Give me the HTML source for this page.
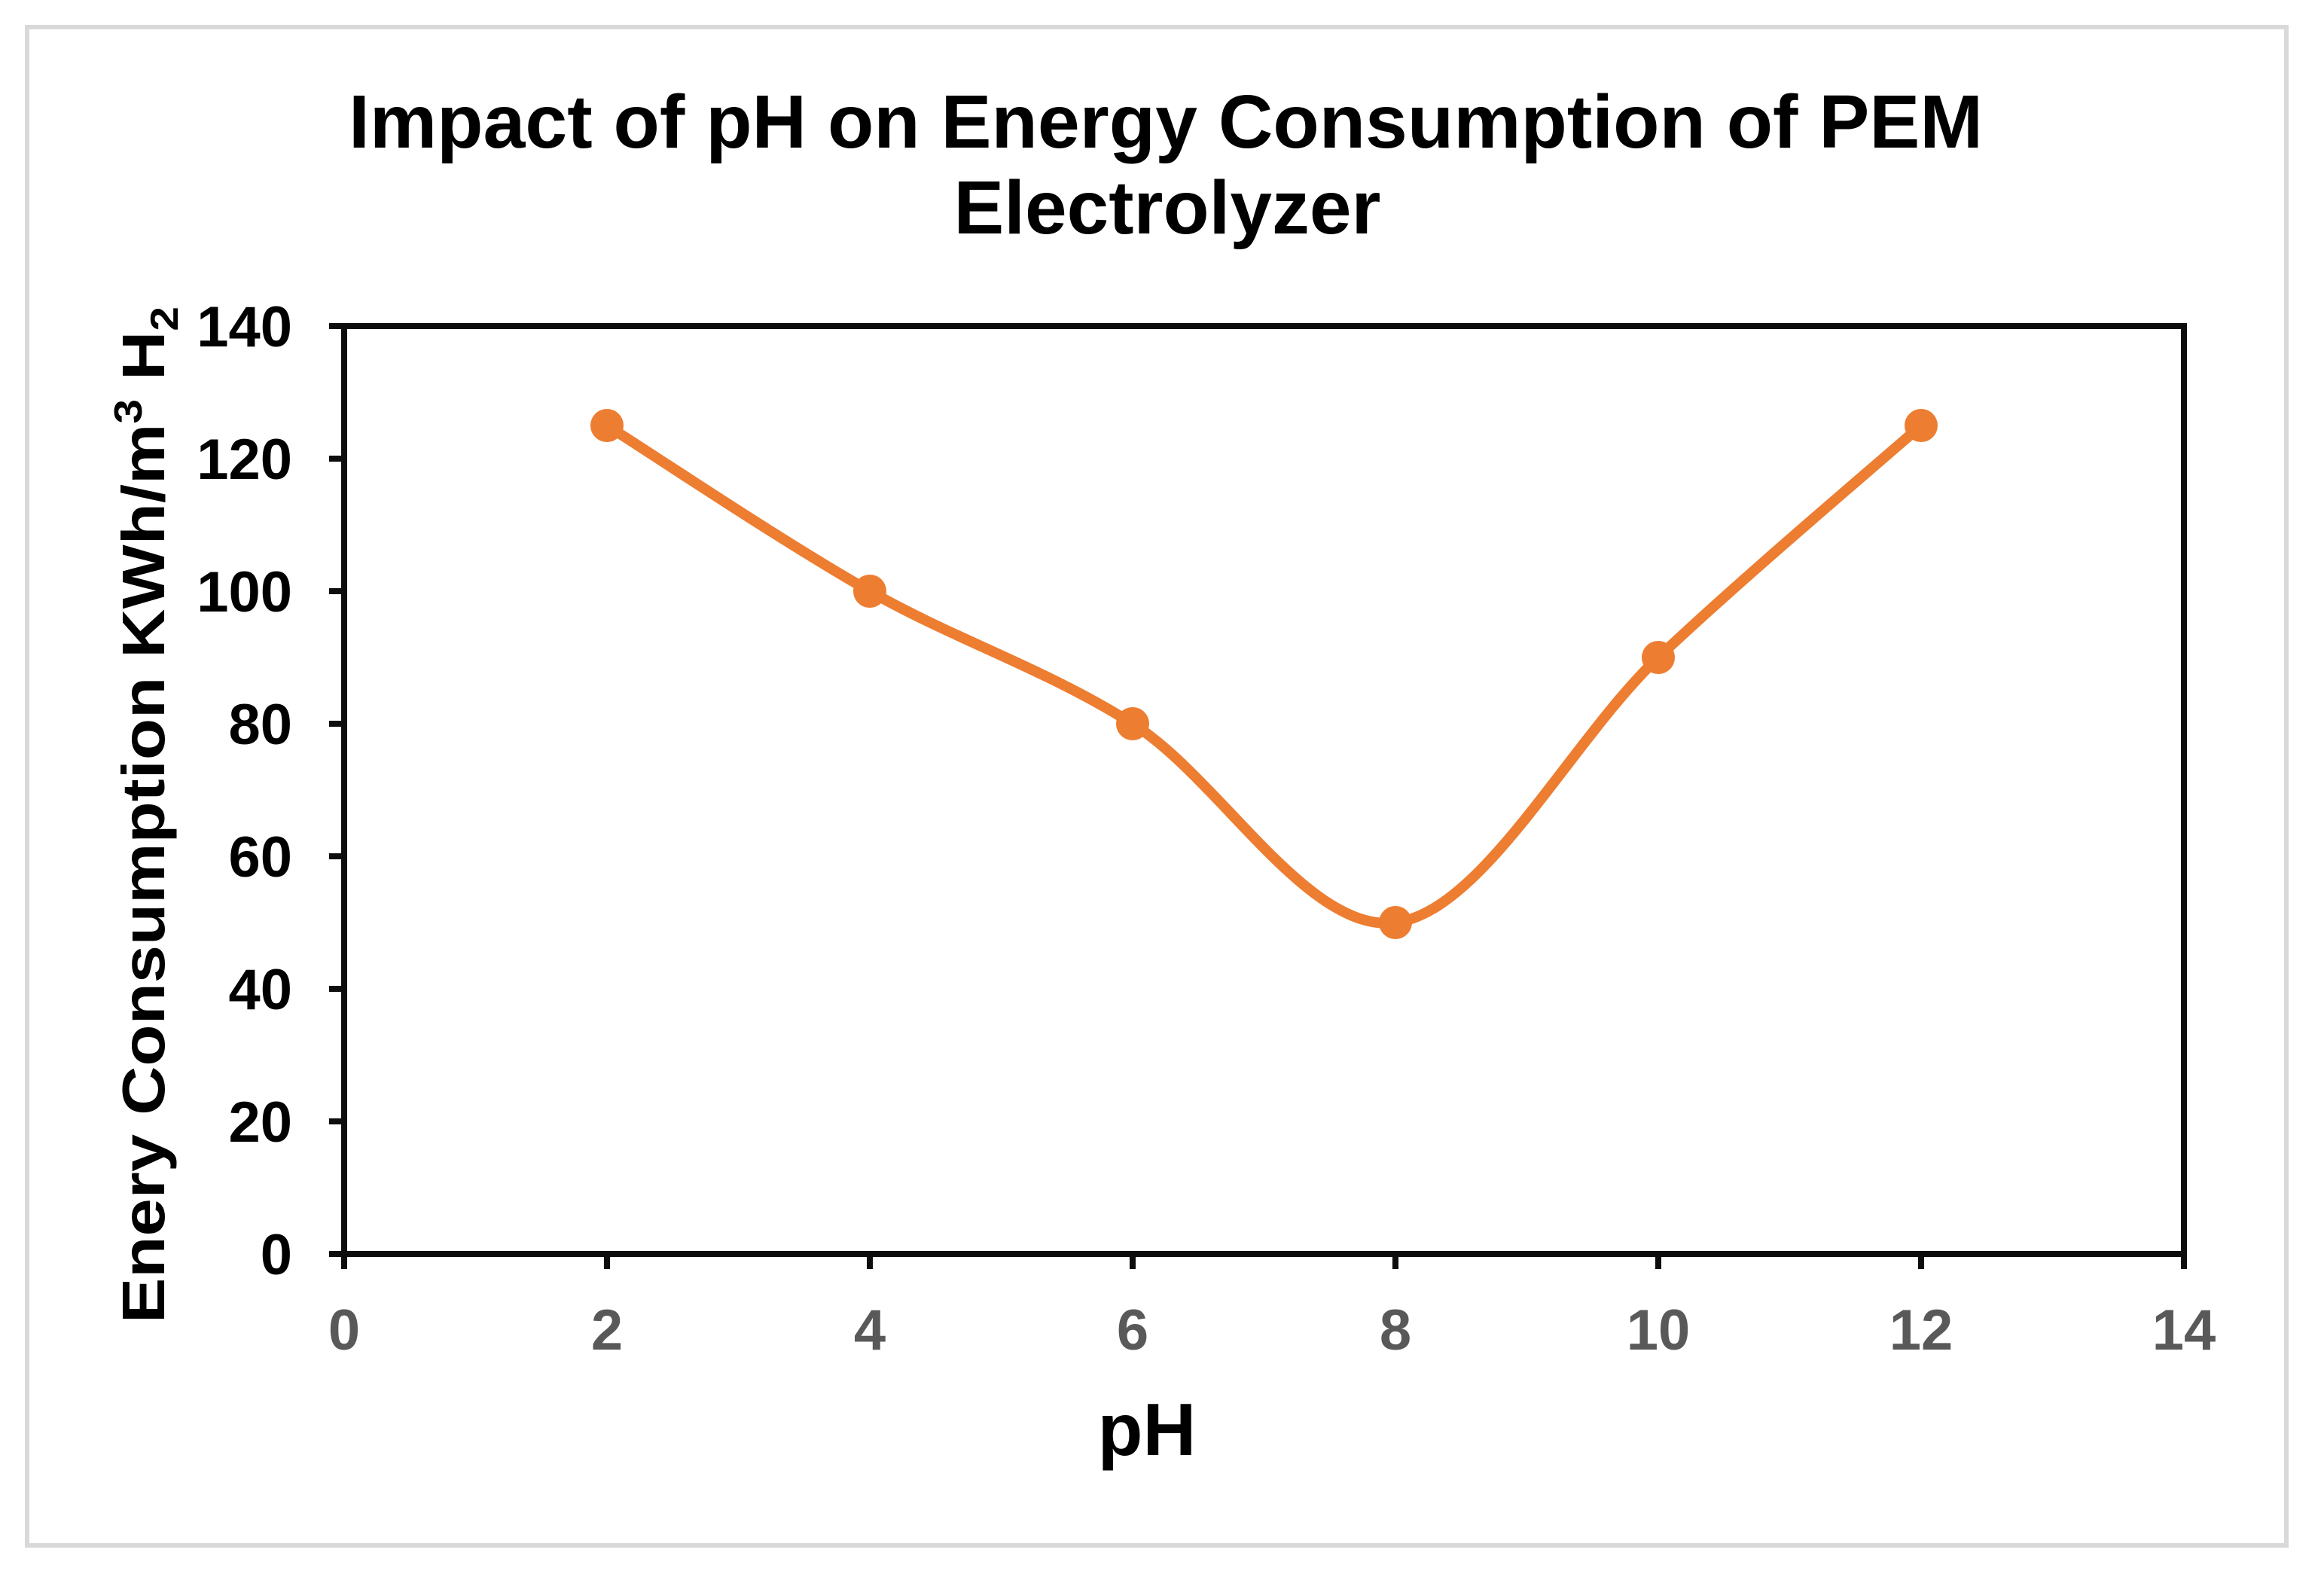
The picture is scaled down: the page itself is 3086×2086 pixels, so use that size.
<!DOCTYPE html>
<html><head><meta charset="utf-8"><style>
html,body{margin:0;padding:0;background:#fff;}
svg{display:block;font-family:"Liberation Sans",Arial,sans-serif;font-weight:bold;}
</style></head><body>
<svg id="chart" width="3086" height="2086" viewBox="0 0 3086 2086" xmlns="http://www.w3.org/2000/svg">
<rect x="36" y="36" width="3000" height="2016" fill="#fff" stroke="#d9d9d9" stroke-width="6"/>
<text x="1548" y="196" font-size="88" text-anchor="middle" fill="#000" textLength="2170" lengthAdjust="spacingAndGlyphs" style="font-size:100px">Impact of pH on Energy Consumption of PEM</text>
<text x="1550" y="310" font-size="100" text-anchor="middle" fill="#000">Electrolyzer</text>
<g id="axes"></g>
<g id="series"></g>
<text x="1523" y="1932" font-size="98" text-anchor="middle" fill="#000">pH</text>
<text transform="translate(218,1082) rotate(-90)" font-size="80" text-anchor="middle" fill="#000" textLength="1350" lengthAdjust="spacingAndGlyphs">Enery Consumption KWh/m<tspan font-size="52" dy="-30">3</tspan><tspan dy="30"> H</tspan><tspan font-size="52" dy="18">2</tspan></text>
</svg>
<script>
const xValues = [2, 4, 6, 8, 10, 12];
const yValues = [125, 100, 80, 50, 90, 125];
const xTicks = [0, 2, 4, 6, 8, 10, 12, 14];
const yTicks = [0, 20, 40, 60, 80, 100, 120, 140];
const NS = "http://www.w3.org/2000/svg";
const L = 457, R = 2900, T = 433, B = 1665;
function sx(v){ return L + (v - 0) / 14 * (R - L); }
function sy(v){ return B - (v - 0) / 140 * (B - T); }
function mk(tag, attrs, parent){ const e = document.createElementNS(NS, tag); for (const k in attrs) e.setAttribute(k, attrs[k]); parent.appendChild(e); return e; }
const axes = document.getElementById('axes');
const frame = mk('rect', {x:L, y:T, width:R-L, height:B-T, fill:'none', stroke:'#0d0d0d', 'stroke-width':8}, axes);


yTicks.forEach(v => {
  const y = sy(v);
  const t = mk('line', {x1:L-20, x2:L, y1:y, y2:y, stroke:'#0d0d0d', 'stroke-width':8}, axes);
  
  
  const lb = mk('text', {x:388, y:y+27, 'font-size':76, 'text-anchor':'end', fill:'#000'}, axes);
  lb.textContent = v;
  
  
});
xTicks.forEach(v => {
  const x = sx(v);
  const t = mk('line', {x1:x, x2:x, y1:B, y2:B+20, stroke:'#0d0d0d', 'stroke-width':8}, axes);
  
  
  const lb = mk('text', {x:x, y:1792, 'font-size':76, 'text-anchor':'middle', fill:'#595959'}, axes);
  lb.textContent = v;
  
  
});
const series = document.getElementById('series');
const pts = xValues.map((x,i) => [sx(x), sy(yValues[i])]);
let d = 'M' + pts[0][0] + ',' + pts[0][1];
for (let i = 0; i < pts.length - 1; i++) {
  const p0 = pts[Math.max(0, i-1)], p1 = pts[i], p2 = pts[i+1], p3 = pts[Math.min(pts.length-1, i+2)];
  const k = 1/6;
  const c1 = [p1[0] + (p2[0]-p0[0])*k, p1[1] + (p2[1]-p0[1])*k];
  const c2 = [p2[0] - (p3[0]-p1[0])*k, p2[1] - (p3[1]-p1[1])*k];
  d += ' C' + c1 + ' ' + c2 + ' ' + p2;
}
const path = mk('path', {d:d, fill:'none', stroke:'#ED7D31', 'stroke-width':14, 'stroke-linecap':'round'}, series);


pts.forEach(p => {
  const c = mk('circle', {cx:p[0], cy:p[1], r:22, fill:'#ED7D31'}, series);
  
  
});
</script>
</body></html>
